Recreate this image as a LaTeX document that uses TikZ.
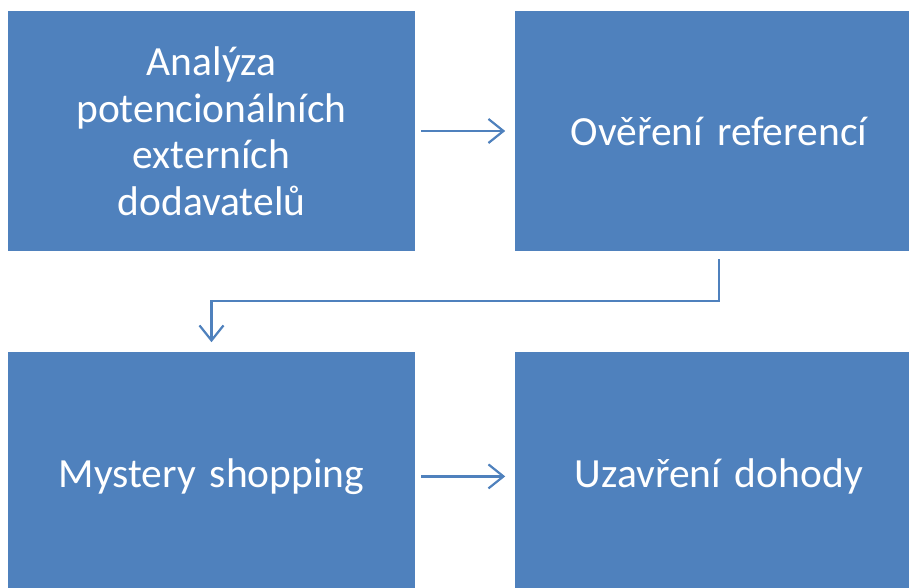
\documentclass[tikz,border=0pt]{standalone}
\usepackage{fontspec}
\setmainfont{Carlito}
\usetikzlibrary{positioning, arrows.meta}
\definecolor{boxblue}{HTML}{4F81BD}

\begin{document}
\begin{tikzpicture}[x=1pt, y=-1pt,
  krok/.style={fill=boxblue, text=white, minimum width=407pt, minimum height=240pt,
    text width=380pt, align=center, inner sep=0pt,
    font=\fontsize{41.5}{46.5}\selectfont},
  sipka/.style={draw=boxblue, line width=2.2pt, -{Straight Barb[length=15pt,width=24pt]}}]
  \useasboundingbox (0,0) rectangle (909,588);
  \clip (0,0) rectangle (909,588);

  % Steps
  \node[krok] (analyza) at (211.5,131) {Analýza\\potencionálních\\externích\\dodavatelů};
  \node[krok, right=100pt of analyza] (overeni) {Ověření referencí};
  \node[krok, minimum height=248pt, below=101pt of analyza] (mystery) {Mystery shopping};
  \node[krok, minimum height=248pt, right=100pt of mystery] (uzavreni) {Uzavření dohody};

  % Arrows between steps
  \draw[sipka] ([xshift=6pt]analyza.east) -- ([xshift=-10pt]overeni.west);
  \draw[sipka] ([yshift=-8pt]overeni.south) -- ++(0,42) -| ([yshift=10pt]mystery.north);
  \draw[sipka] ([xshift=6pt]mystery.east) -- ([xshift=-10pt]uzavreni.west);
\end{tikzpicture}
\end{document}
